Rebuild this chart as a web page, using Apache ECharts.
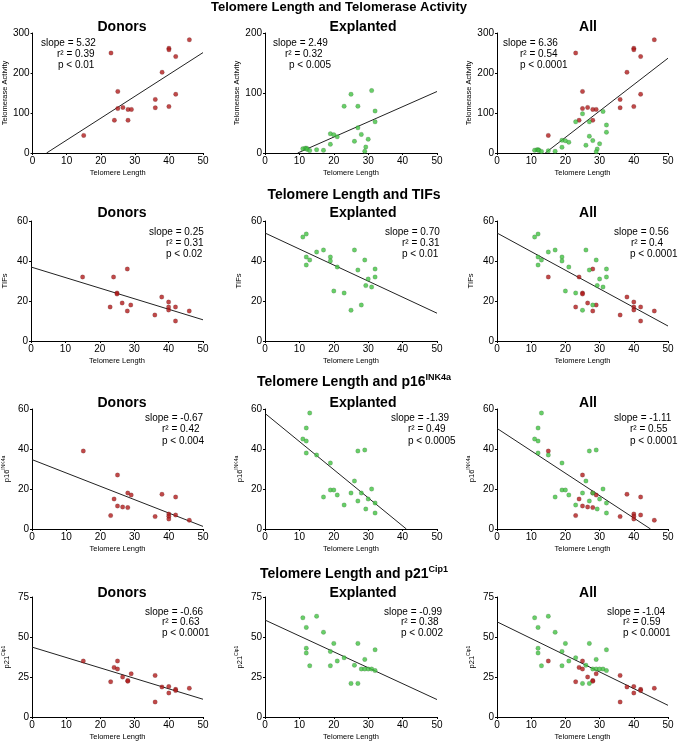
<!DOCTYPE html>
<html>
<head>
<meta charset="utf-8">
<title>Telomere Length</title>
<script src="https://cdn.jsdelivr.net/npm/echarts@6/dist/echarts.min.js"></script>
<style>
  html, body { margin: 0; padding: 0; background: #fff; }
  #chart { width: 678px; height: 746px; }
</style>
</head>
<body>
<div id="chart"></div>
<script>
// points are [telomere length, value]
const donorTelomerase = [[15,44],[23,250],[24,82],[25,154],[25,111],[26.5,114],[28,109],[28,82],[29,109],[36,134],[36,113],[38,202],[40,262],[40,258],[40,116],[42,241],[42,147],[46,283]]
const explantedTelomerase = [[11,7],[11.7,8],[12.1,8],[12.3,6],[13,4],[15,5.5],[17,4.5],[19,32],[19,14.5],[20,30.5],[21,27],[23,78],[25,98],[26,19.5],[27,78],[27,42],[28,31],[29.3,10],[29,3],[30,23],[31,104],[32,70],[32,52]]

const donorTIFs = [[15,32],[23,17],[24,32],[25,24],[25,23.5],[26.5,19],[28,36],[28,15],[29,18],[36,13],[38,22],[40,19.5],[40,17],[40,15.5],[42,17],[42,10],[46,15]]
const explantedTIFs = [[11,52],[12,53.5],[12,42],[12,38],[13,40.5],[15,44.5],[17,45.5],[19,42],[19,40],[20,25],[21,37],[23,24],[25,15.4],[26,45.5],[27,35.5],[28,18],[29,40.5],[30,31],[29.3,27.7],[31,27],[32,36],[32,32]]

const donorP16 = [[15,39],[23,6.7],[24,15],[25,27],[25,11.5],[26.5,11],[28,18],[28,10.7],[29,17],[36,6.2],[38,17.4],[40,7.5],[40,6.4],[40,5],[42,16],[42,7],[46,4.4]]
const explantedP16 = [[11,45],[12,50.5],[12,44],[12,38],[13,58],[15,37],[17,16],[19,33],[19,19.5],[20,19.5],[21,17],[23,12],[25,18],[26,24],[27,39],[27,14],[28,18],[29,39.5],[29.3,10],[30,15],[31,20],[32,13],[32,8]]

const donorP21 = [[15,35],[23,22],[24,31],[25,35],[25,30],[26.5,25],[28,22.8],[28,22.4],[29,27],[36,26],[36,9.4],[38,18.8],[40,19],[40,15],[42,17.3],[42,16.5],[46,18]]
const explantedP21 = [[11,62],[12,56],[12,43],[12,40],[13,32],[15,63],[17,53],[20,46],[19,41],[19,32],[21,35],[23,37],[25,21],[26,32.4],[27,46],[27,21],[28,30],[29,36],[29,30],[30,30],[31,30],[32,29],[32,42]]

// regression line ends for donors / explanted / all
const fitTelomerase = [[[4.1,0],[50,251]], [[9.5,0],[50,102.5]], [[14.1,0],[50,237]]]
const fitTIFs = [[[0,37],[50,10.6]], [[0,54],[50,13.9]], [[0,54],[50,7.5]]]
const fitP16 = [[[0,34.7],[50,1.3]], [[0,57.8],[41.1,0]], [[0,50.3],[44.9,0]]]
const fitP21 = [[[0,43.7],[50,11.1]], [[0,60.6],[50,10.9]], [[0,59.5],[50,7.3]]]

// slope, r2, p for donors / explanted / all
const statsTelomerase = [['5.32','0.39','0.01'], ['2.49','0.32','0.005'], ['6.36','0.54','0.0001']]
const statsTIFs = [['0.25','0.31','0.02'], ['0.70','0.31','0.01'], ['0.56','0.4','0.0001']]
const statsP16 = [['-0.67','0.42','0.004'], ['-1.39','0.49','0.0005'], ['-1.11','0.55','0.0001']]
const statsP21 = [['-0.66','0.63','0.0001'], ['-0.99','0.38','0.002'], ['-1.04','0.59','0.0001']]

const panelNames = ['Donors', 'Explanted', 'All']
const xTicks = { min: 0, max: 50, step: 10 }

const RED = '#b01c1c'
const GREEN = '#42c242'
const FONT = '"Liberation Sans", Arial, sans-serif'

// layout (pixels)
const colLeft = [31, 265, 497]
const colWidth = [172, 172, 171]
const rowTop = [33, 221, 409, 597]
const plotH = 120
const subX = [122, 363, 588]

const rows = [
  { title: 'Telomere Length and Telomerase Activity', titleX: 339, titleY: 7, titleSize: 13, subY: 27,
    yName: 'Telomerase Activity', yMax: [300, 200, 300], yStep: 100, nameGap: 23,
    donors: donorTelomerase, explanted: explantedTelomerase, fits: fitTelomerase, stats: statsTelomerase,
    statX: [[41,57,58], [273,285,289], [503,520,520]], statY: [43,54,65] },
  { title: 'Telomere Length and TIFs', titleX: 354, titleY: 195, titleSize: 14, subY: 213,
    yName: 'TIFs', yMax: [60, 60, 60], yStep: 20, nameGap: 22,
    donors: donorTIFs, explanted: explantedTIFs, fits: fitTIFs, stats: statsTIFs,
    statX: [[149,166,166], [385,402,402], [614,631,630]], statY: [232,243,254] },
  { title: 'Telomere Length and p16{sup|INK4a}', titleX: 354, titleY: 382, titleSize: 14, subY: 403,
    yName: 'p16{sup|INK4a}', yMax: [60, 60, 60], yStep: 20, nameGap: 19,
    donors: donorP16, explanted: explantedP16, fits: fitP16, stats: statsP16,
    statX: [[145,162,162], [391,408,408], [614,630,630]], statY: [418,429,441] },
  { title: 'Telomere Length and p21{sup|Cip1}', titleX: 354, titleY: 574, titleSize: 14, subY: 593,
    yName: 'p21{sup|Cip1}', yMax: [75, 75, 75], yStep: 25, nameGap: 19,
    donors: donorP21, explanted: explantedP21, fits: fitP21, stats: statsP21,
    statX: [[145,162,162], [384,401,401], [607,623,623]], statY: [612,622,633] }
]

const grid = [], xAxis = [], yAxis = [], series = [], graphic = []

function scatter(idx, data, color) {
  return {
    type: 'scatter', xAxisIndex: idx, yAxisIndex: idx, data: data,
    symbol: 'circle', symbolSize: 4.5, silent: true,
    itemStyle: { color: color, borderColor: 'rgba(0,0,0,0.3)', borderWidth: 0.5 }
  }
}

rows.forEach((row, r) => {
  graphic.push({
    type: 'text', x: row.titleX, y: row.titleY,
    style: { text: row.title, fontSize: row.titleSize, fontWeight: 'bold', fontFamily: FONT, fill: '#000',
      align: 'center', verticalAlign: 'middle',
      rich: { sup: { fontSize: 9, fontWeight: 'bold', fontFamily: FONT, verticalAlign: 'top', lineHeight: 18 } } }
  })
  for (let c = 0; c < 3; c++) {
    const idx = r * 3 + c
    grid.push({ left: colLeft[c], top: rowTop[r], width: colWidth[c], height: plotH, containLabel: false })
    xAxis.push({
      gridIndex: idx, type: 'value', min: xTicks.min, max: xTicks.max, interval: xTicks.step,
      name: 'Telomere Length', nameLocation: 'middle', nameGap: 16,
      nameTextStyle: { fontSize: 7.5, fontFamily: FONT, color: '#000' },
      axisLine: { show: true, onZero: false, lineStyle: { color: '#000', width: 1 } },
      axisTick: { show: true, length: 2, lineStyle: { color: '#000' } },
      axisLabel: { fontSize: 10, fontFamily: FONT, color: '#000', margin: 3 },
      splitLine: { show: false }
    })
    yAxis.push({
      gridIndex: idx, type: 'value', min: 0, max: row.yMax[c], interval: row.yStep,
      name: row.yName, nameLocation: 'middle', nameGap: row.nameGap, nameRotate: 90,
      nameTextStyle: { fontSize: 7.5, fontFamily: FONT, color: '#000',
        rich: { sup: { fontSize: 5, fontFamily: FONT, verticalAlign: 'top', lineHeight: 12 } } },
      axisLine: { show: true, onZero: false, lineStyle: { color: '#000', width: 1 } },
      axisTick: { show: true, length: 2, lineStyle: { color: '#000' } },
      axisLabel: { fontSize: 10, fontFamily: FONT, color: '#000', margin: 3 },
      splitLine: { show: false }
    })
    if (c === 0 || c === 2) series.push(scatter(idx, row.donors, RED))
    if (c === 1 || c === 2) series.push(scatter(idx, row.explanted, GREEN))
    series.push({
      type: 'line', xAxisIndex: idx, yAxisIndex: idx, data: row.fits[c],
      symbol: 'none', silent: true, z: 1,
      lineStyle: { color: '#222', width: 1 }
    })

    graphic.push({
      type: 'text', x: subX[c], y: row.subY,
      style: { text: panelNames[c], font: 'bold 14px ' + FONT, fill: '#000', align: 'center', verticalAlign: 'middle' }
    })
    const st = row.stats[c]
    const lines = ['slope = ' + st[0], 'r\u00b2 = ' + st[1], 'p < ' + st[2]]
    lines.forEach((txt, k) => {
      graphic.push({
        type: 'text', x: row.statX[c][k], y: row.statY[k],
        style: { text: txt, font: '10px ' + FONT, fill: '#000', align: 'left', verticalAlign: 'middle' }
      })
    })
  }
})

const chart = echarts.init(document.getElementById('chart'))
chart.setOption({
  backgroundColor: '#fff',
  animation: false,
  grid: grid,
  xAxis: xAxis,
  yAxis: yAxis,
  series: series,
  graphic: graphic
})
</script>
</body>
</html>
